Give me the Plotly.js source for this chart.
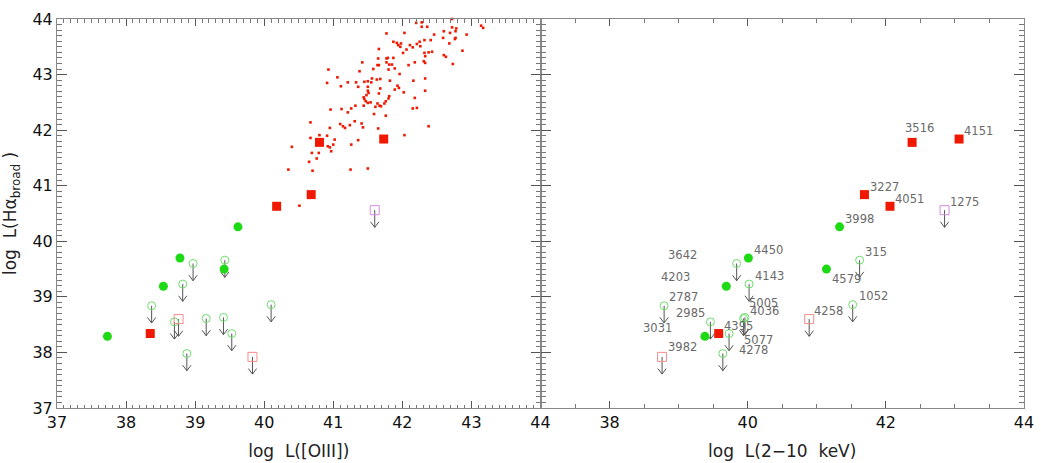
<!DOCTYPE html>
<html>
<head>
<meta charset="utf-8">
<script src="https://cdn.plot.ly/plotly-3.0.1.min.js"></script>
<style>body{margin:0;background:#fff;} #chart{width:1041px;height:463px;}</style>
</head>
<body>
<div id="chart"></div>
<script>
// ---- Data ----
// Red filled squares
const redNames = ['4395','4051','3227','3516','4151'];
const redOIII  = [38.35, 40.18, 40.68, 40.80, 41.73];
const redX     = [39.58, 42.06, 41.69, 42.38, 43.06];
const redHa    = [38.34, 40.63, 40.84, 41.78, 41.84];
// Green filled circles
const grnNames = ['3031','4203','4450','4579','3998'];
const grnOIII  = [37.73, 38.54, 38.78, 39.42, 39.62];
const grnX     = [39.38, 39.69, 40.01, 41.14, 41.33];
const grnHa    = [38.29, 39.19, 39.70, 39.50, 40.26];
// Green open circles (upper limits)
const ulgNames = ['2787','2985','4143','4278','3642','4036','5005','315','5077','1052'];
const ulgOIII  = [38.37, 38.70, 38.82, 38.88, 38.97, 39.16, 39.41, 39.43, 39.53, 40.10];
const ulgX     = [38.79, 39.46, 40.02, 39.64, 39.84, 39.94, 39.96, 41.62, 39.73, 41.52];
const ulgHa    = [38.84, 38.55, 39.23, 37.98, 39.60, 38.61, 38.63, 39.66, 38.34, 38.86];
// Salmon open squares (upper limits)
const ulsNames = ['4258','3982'];
const ulsOIII  = [38.76, 39.83];
const ulsX     = [40.89, 38.76];
const ulsHa    = [38.60, 37.92];
// Purple open square (upper limit)
const ulpNames = ['1275'];
const ulpOIII  = [41.60];
const ulpX     = [42.85];
const ulpHa    = [40.56];
// Label positions in right panel (data units)
const labNames = ['3516','4151','3227','4051','1275','3998','315','4579','1052','4258','4450','3642','4143','4203','2787','5005','4036','2985','4395','3031','5077','3982','4278'];
const labX = [42.49,43.34,41.98,42.34,43.14,41.62,41.86,41.43,41.82,41.17,40.30,39.05,40.31,38.95,39.07,40.23,40.25,39.17,39.87,38.70,40.15,39.05,40.09];
const labY = [42.03,41.99,40.98,40.77,40.71,40.41,39.81,39.32,39.01,38.75,39.84,39.75,39.38,39.35,38.99,38.89,38.74,38.71,38.48,38.44,38.22,38.10,38.05];
// Small red dots (comparison sample), left panel
const qsoOIII = [42.72,42.20,42.28,42.28,42.36,42.72,42.78,43.14,43.17,41.77,
42.03,42.60,42.69,42.77,42.46,42.93,42.32,42.41,42.59,42.76,
42.77,41.87,41.92,41.98,41.94,41.97,42.11,42.21,42.25,42.26,
42.15,42.68,41.66,42.06,42.01,42.32,42.38,42.43,42.87,42.60,
42.63,42.33,41.65,41.77,41.79,41.87,41.77,42.18,42.31,42.33,
41.42,41.64,41.66,41.81,41.85,42.09,42.73,40.93,41.58,41.80,
41.89,41.38,41.96,41.06,40.91,41.11,41.21,41.33,41.36,41.45,
41.50,41.55,41.56,41.63,41.68,41.82,42.16,42.33,41.50,41.68,
41.93,41.95,41.89,42.02,42.33,41.50,41.51,41.48,41.66,41.44,
41.45,41.47,41.50,41.54,41.81,41.80,41.76,41.74,41.64,41.67,
41.69,41.61,41.44,41.32,42.18,40.96,41.12,41.26,41.21,41.59,
41.76,42.15,42.21,40.67,41.31,41.10,41.14,41.17,41.24,41.41,
41.43,40.95,41.65,42.38,40.67,40.80,40.91,41.02,41.36,41.26,
41.00,40.92,40.95,40.40,40.97,42.03,40.69,40.79,40.76,40.65,
40.35,40.70,41.25,41.50,40.51];
const qsoHa = [44.00,43.93,43.94,43.86,43.86,43.85,43.83,43.88,43.84,43.74,
43.75,43.78,43.75,43.78,43.72,43.72,43.62,43.62,43.66,43.64,
43.66,43.59,43.57,43.56,43.53,43.50,43.53,43.55,43.59,43.51,
43.49,43.56,43.46,43.45,43.39,43.39,43.40,43.41,43.43,43.35,
43.32,43.33,43.29,43.29,43.30,43.30,43.22,43.22,43.24,43.21,
43.22,43.17,43.17,43.18,43.18,43.17,43.19,43.09,43.10,43.09,
43.11,43.06,43.01,42.95,42.85,42.79,42.86,42.86,42.78,42.87,
42.88,42.86,42.93,42.91,42.92,42.89,42.89,42.93,42.78,42.75,
42.80,42.76,42.73,42.68,42.71,42.71,42.67,42.63,42.66,42.59,
42.56,42.52,42.49,42.50,42.61,42.57,42.52,42.48,42.48,42.44,
42.43,42.42,42.44,42.44,42.58,42.37,42.38,42.39,42.32,42.29,
42.26,42.39,42.40,42.14,42.16,42.11,42.07,42.04,42.09,42.12,
42.05,42.04,42.03,42.07,41.86,41.91,41.90,41.83,41.82,41.74,
41.74,41.71,41.69,41.70,41.62,41.91,41.59,41.59,41.49,41.43,
41.29,41.27,41.29,41.31,40.64];

// ---- Styles ----
const RED = 'rgb(240,24,0)';
const GREEN = 'rgb(30,218,20)';
const LGREEN = 'rgb(110,222,110)';
const SALMON = 'rgb(244,140,140)';
const PURPLE = 'rgb(214,140,226)';
const ARROW_LEN = 0.31;   // arrow shaft length (axis units)
const HEAD_W = 0.06;      // arrow head half width (axis units)
const HEAD_H = 0.10;      // arrow head height (axis units)
const FONT = 'DejaVu Sans, Liberation Sans, sans-serif';

function pts(x, y, xa, ya, marker) {
  return {type:'scatter', mode:'markers', x:x, y:y, xaxis:xa, yaxis:ya,
          marker:marker, hoverinfo:'skip', cliponaxis:false};
}
// Upper-limit arrows drawn as line traces (shaft + open V head)
function arrowTrace(xs, ys, xa, ya) {
  const ax = [], ay = [];
  xs.forEach((xv, i) => {
    const y0 = ys[i], y1 = ys[i] - ARROW_LEN;
    ax.push(xv, xv, null, xv - HEAD_W, xv, xv + HEAD_W, null);
    ay.push(y0, y1, null, y1 + HEAD_H, y1, y1 + HEAD_H, null);
  });
  return {type:'scatter', mode:'lines', x:ax, y:ay, xaxis:xa, yaxis:ya,
          line:{color:'#555', width:1}, hoverinfo:'skip', connectgaps:false};
}
const mRed = {symbol:'square', size:9, color:RED};
const mGrn = {symbol:'circle', size:9, color:GREEN};
const mUlg = {symbol:'circle-open', size:8, color:LGREEN, line:{width:1, color:LGREEN}};
const mUls = {symbol:'square-open', size:9, color:SALMON, line:{width:1, color:SALMON}};
const mUlp = {symbol:'square-open', size:9, color:PURPLE, line:{width:1, color:PURPLE}};

const traces = [
  arrowTrace(ulgOIII, ulgHa, 'x', 'y'),
  arrowTrace(ulsOIII, ulsHa, 'x', 'y'),
  arrowTrace(ulpOIII, ulpHa, 'x', 'y'),
  arrowTrace(ulgX, ulgHa, 'x2', 'y2'),
  arrowTrace(ulsX, ulsHa, 'x2', 'y2'),
  arrowTrace(ulpX, ulpHa, 'x2', 'y2'),
  pts(qsoOIII, qsoHa, 'x', 'y', {symbol:'square', size:2.6, color:RED}),
  pts(redOIII, redHa, 'x', 'y', mRed),
  pts(grnOIII, grnHa, 'x', 'y', mGrn),
  pts(ulgOIII, ulgHa, 'x', 'y', mUlg),
  pts(ulsOIII, ulsHa, 'x', 'y', mUls),
  pts(ulpOIII, ulpHa, 'x', 'y', mUlp),
  pts(redX, redHa, 'x2', 'y2', mRed),
  pts(grnX, grnHa, 'x2', 'y2', mGrn),
  pts(ulgX, ulgHa, 'x2', 'y2', mUlg),
  pts(ulsX, ulsHa, 'x2', 'y2', mUls),
  pts(ulpX, ulpHa, 'x2', 'y2', mUlp)
];

const annotations = labNames.map((t, i) => ({x:labX[i], y:labY[i], xref:'x2', yref:'y2', text:t,
  showarrow:false, xanchor:'center', yanchor:'middle',
  font:{family:FONT, size:11.5, color:'#6a6a6a'}}));

const tickFont = {family:FONT, size:16, color:'#111'};
const titleFont = {family:FONT, size:17, color:'#222'};
const common = {range:[37,44], ticks:'inside', showline:true, linecolor:'#888', linewidth:1,
  tickcolor:'#555', mirror:'ticks', showgrid:false, zeroline:false, tickfont:tickFont,
  fixedrange:true};

const layout = {
  width:1041, height:463,
  margin:{l:57, r:17, t:19, b:55, pad:0},
  paper_bgcolor:'#fff', plot_bgcolor:'#fff',
  showlegend:false,
  xaxis:Object.assign({}, common, {domain:[0,0.5], anchor:'y', tick0:37, dtick:1, ticklen:7,
    minor:{dtick:0.1, ticklen:3.5, tickcolor:'#777', ticks:'inside'},
    title:{text:'log\u00a0 L([OIII])', font:titleFont, standoff:13}}),
  yaxis:Object.assign({}, common, {domain:[0,1], anchor:'x', tick0:37, dtick:1, ticklen:10,
    minor:{dtick:0.1, ticklen:5, tickcolor:'#777', ticks:'inside'},
    title:{text:'log\u00a0 L(H\u03b1<sub>broad</sub> )', font:titleFont, standoff:12}}),
  xaxis2:Object.assign({}, common, {domain:[0.5,1], anchor:'y2', tick0:38, dtick:2, ticklen:7,
    minor:{dtick:0.5, ticklen:4, tickcolor:'#777', ticks:'inside'},
    title:{text:'log\u00a0 L(2\u221210\u00a0 keV)', font:titleFont, standoff:13}}),
  yaxis2:Object.assign({}, common, {domain:[0,1], anchor:'x2', tick0:37, dtick:1, ticklen:10,
    showticklabels:false,
    minor:{dtick:0.1, ticklen:5, tickcolor:'#777', ticks:'inside'}}),
  annotations:annotations
};

Plotly.newPlot('chart', traces, layout, {staticPlot:true, displayModeBar:false});
</script>
</body>
</html>
